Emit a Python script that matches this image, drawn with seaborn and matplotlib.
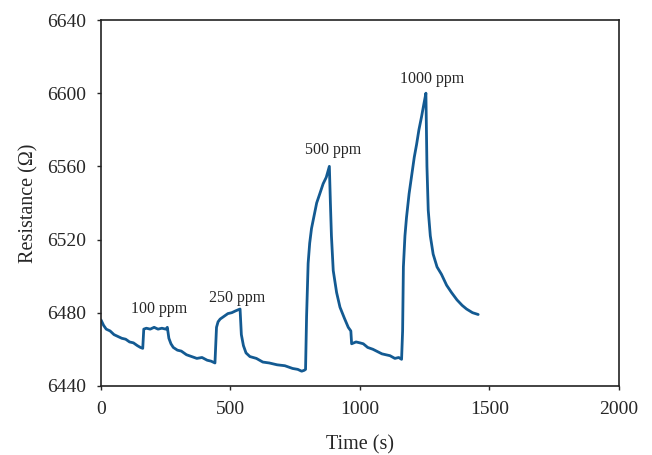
import numpy as np
import pandas as pd
import matplotlib
matplotlib.use("Agg")
import matplotlib.pyplot as plt
import seaborn as sns

# Resistance trace (time in s, resistance in ohm)
time_s = [
    0, 10, 20, 35, 50, 65, 80, 95, 110, 125, 140, 152, 161,
    165, 175, 190, 205, 220, 235, 250, 256,
    262, 270, 279, 295, 310, 330, 350, 370, 390, 410, 425, 440,
    446, 452, 460, 475, 490, 505, 520, 537,
    542, 550, 560, 575, 600, 625, 650, 680, 710, 740, 760, 775, 785, 790,
    794, 800, 806, 813, 823, 833, 845, 858, 870, 882,
    886, 890, 897, 910, 923, 940, 955, 965,
    968, 985, 1000, 1013, 1030, 1050, 1064, 1085, 1100, 1116, 1135, 1150, 1161,
    1165, 1168, 1174, 1180, 1190, 1200, 1210, 1219, 1228, 1238, 1247, 1255,
    1259, 1264, 1272, 1283, 1298, 1315, 1335, 1354, 1375, 1395, 1412, 1435, 1457,
]
resistance = [
    6476, 6473, 6471, 6470, 6468, 6467, 6466, 6465.5, 6464, 6463.5, 6462, 6461, 6460.5,
    6471, 6471.5, 6471, 6472, 6471, 6471.5, 6471, 6472,
    6466, 6463, 6461, 6459.5, 6459, 6457, 6456, 6455, 6455.5, 6454, 6453.5, 6452.5,
    6472, 6475, 6476.5, 6478, 6479.5, 6480, 6481, 6482,
    6468, 6462, 6458, 6456, 6455, 6453, 6452.5, 6451.5, 6451, 6449.5, 6449, 6448, 6448.5, 6449,
    6478, 6507, 6518, 6526, 6533, 6540, 6545, 6550.5, 6554, 6560,
    6540, 6522, 6503, 6491, 6483, 6477, 6472, 6470,
    6463, 6464, 6463.5, 6463, 6461, 6460, 6459, 6457.5, 6457, 6456.5, 6455, 6455.5, 6454.5,
    6470, 6505, 6522, 6532, 6545, 6555, 6565, 6572, 6580, 6587, 6594, 6600,
    6560, 6536, 6522, 6512, 6505, 6501, 6495, 6491, 6487, 6484, 6482, 6480, 6479,
]

labels = ["100 ppm", "250 ppm", "500 ppm", "1000 ppm"]
label_t = [225, 525, 895, 1278]
label_r = [6482, 6488, 6569, 6608]

df = pd.DataFrame({"Time": time_s, "Resistance": resistance})

sns.set_style("ticks")
plt.rcParams["font.family"] = ["Liberation Serif", "DejaVu Serif"]

fig = plt.figure(figsize=(6.52, 4.55), dpi=100)
ax = fig.add_axes([0.155, 0.152, 0.794, 0.804])

sns.lineplot(data=df, x="Time", y="Resistance", ax=ax, color="#135a92",
             linewidth=2.0, sort=False, estimator=None)

for lab, t, r in zip(labels, label_t, label_r):
    ax.text(t, r, lab, ha="center", va="center", fontsize=11.5)

ax.set_xlim(0, 2000)
ax.set_ylim(6440, 6640)
ax.set_xticks([0, 500, 1000, 1500, 2000])
ax.set_yticks([6440, 6480, 6520, 6560, 6600, 6640])
ax.tick_params(labelsize=14, length=3, width=1, direction="out", pad=8)
ax.set_xlabel("Time (s)", fontsize=14.5, labelpad=12)
ax.set_ylabel("Resistance (Ω)", fontsize=14.5, labelpad=6)
for sp in ax.spines.values():
    sp.set_visible(True)
    sp.set_linewidth(1.2)
    sp.set_color("#222222")

fig.savefig("out.png", dpi=100)
